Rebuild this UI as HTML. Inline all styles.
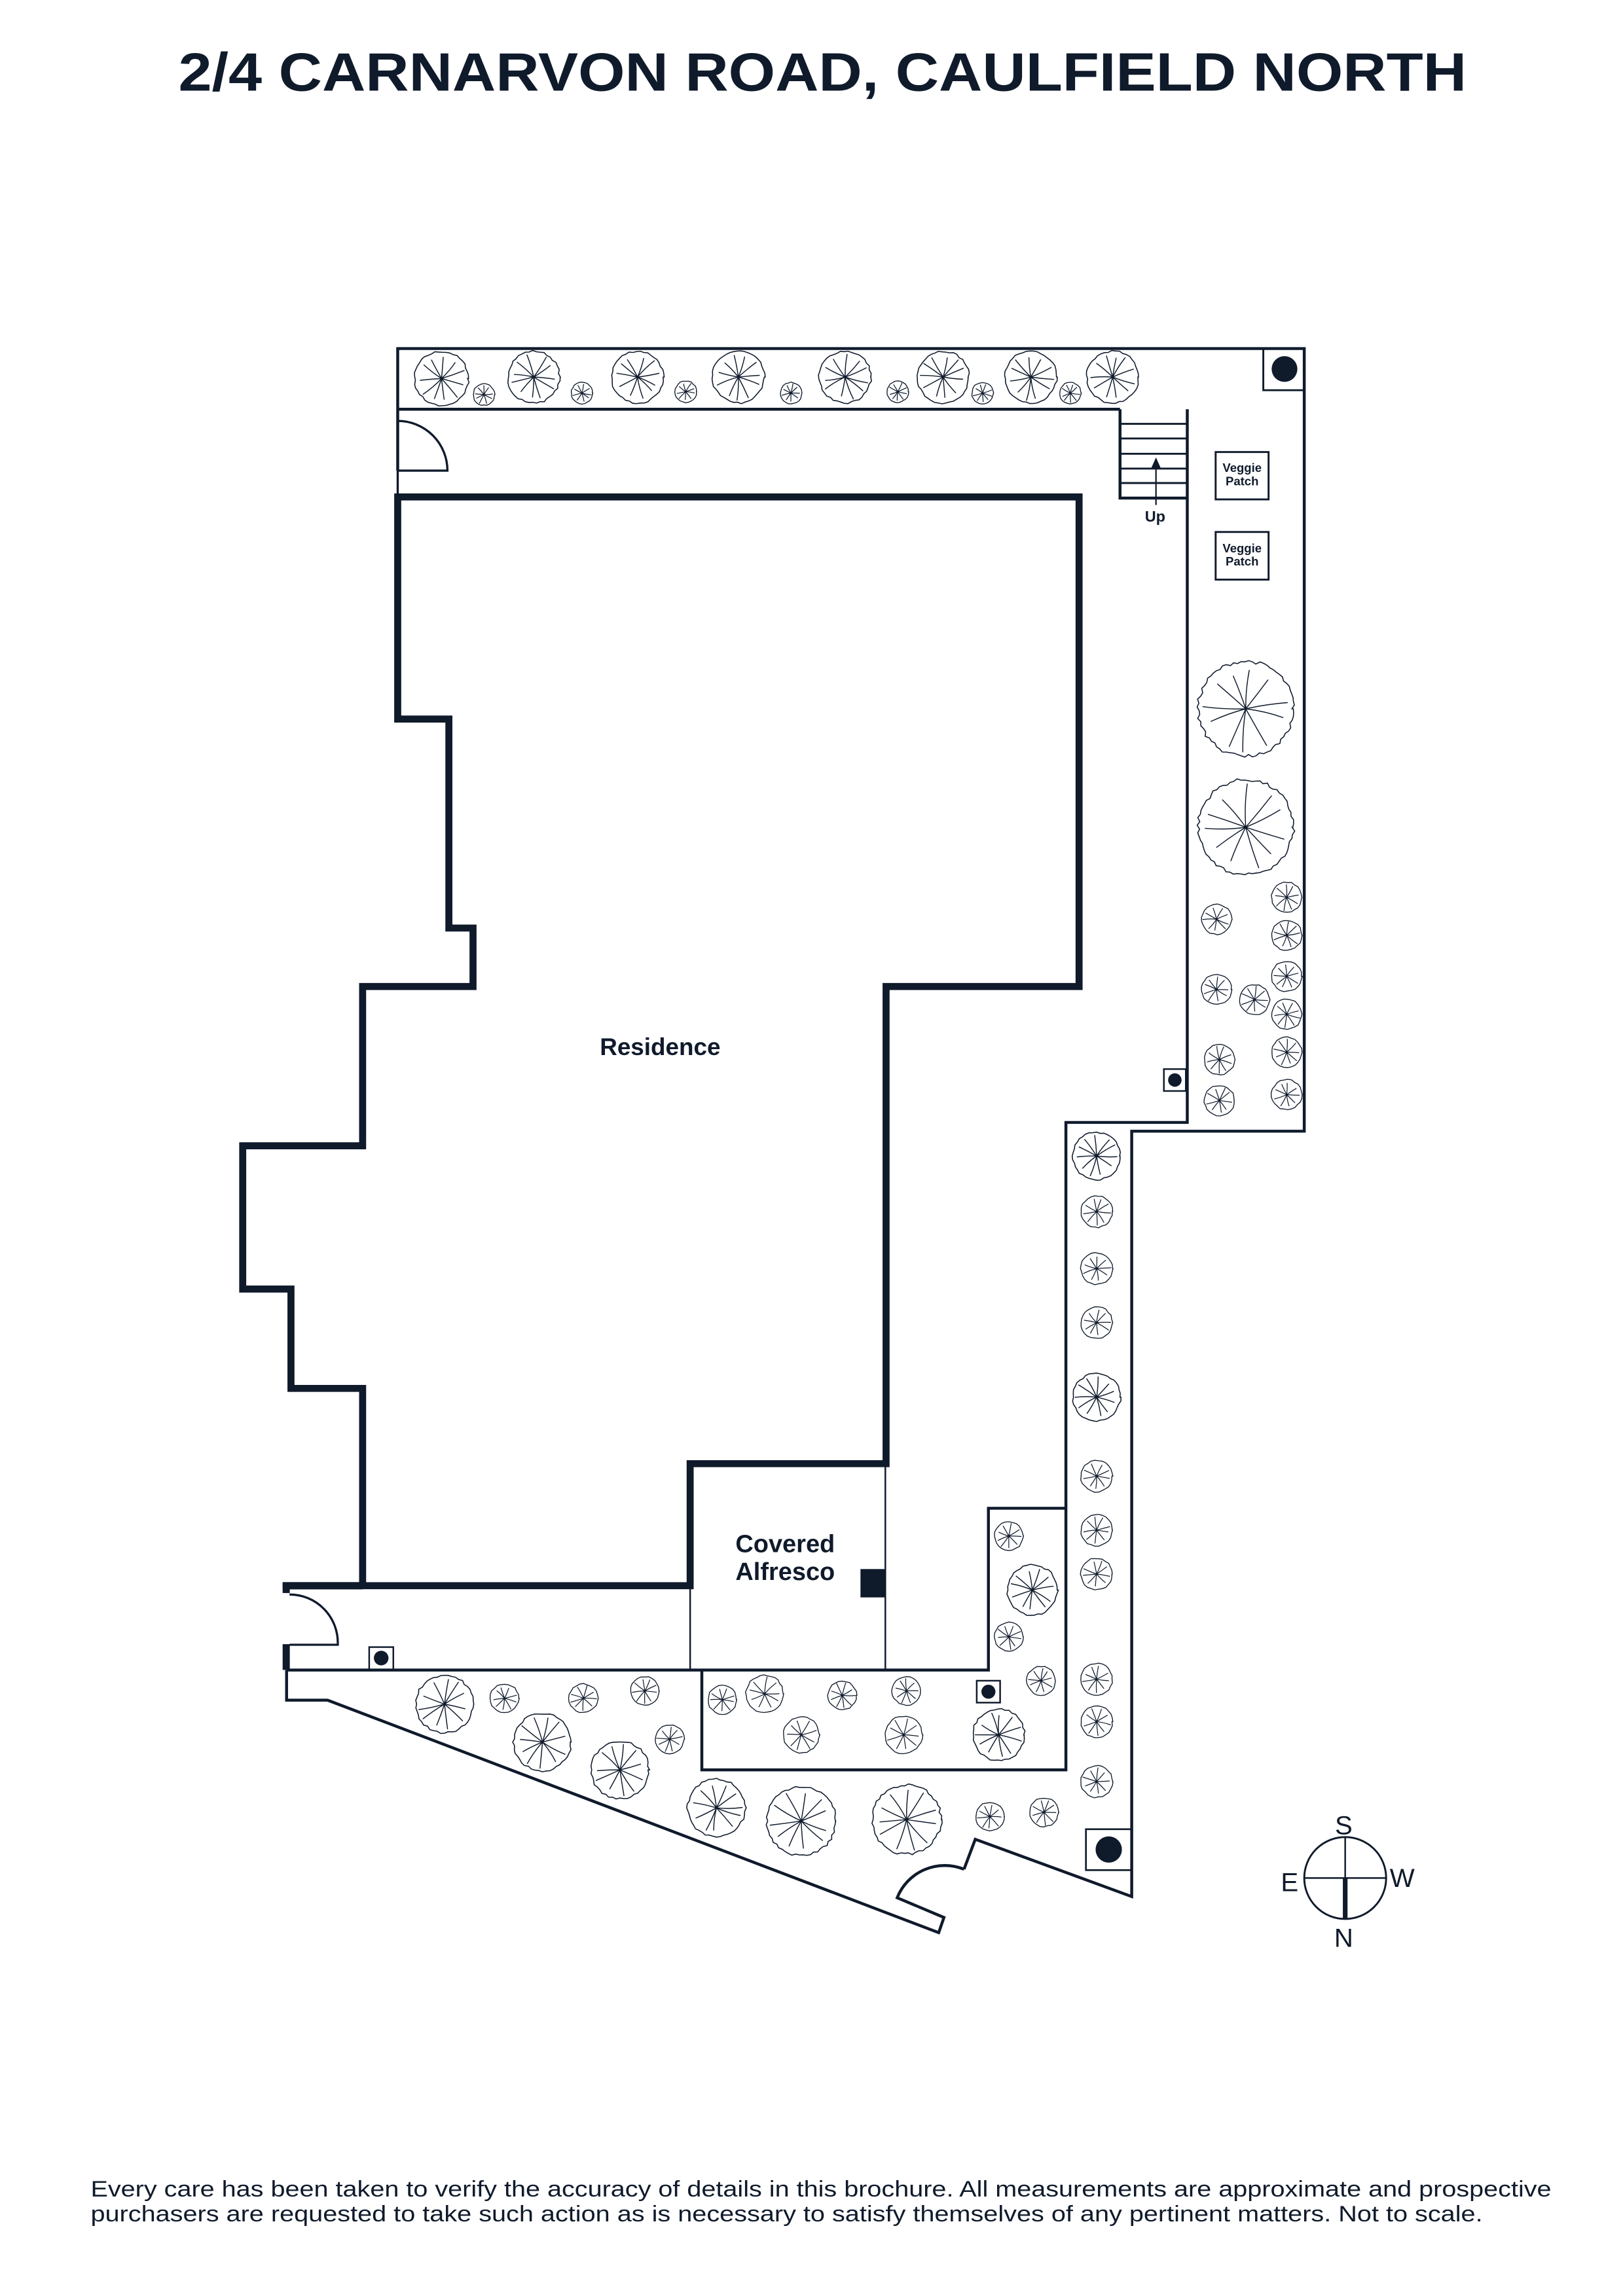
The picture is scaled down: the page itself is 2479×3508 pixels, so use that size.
<!DOCTYPE html>
<html><head><meta charset="utf-8">
<style>
html,body{margin:0;padding:0;background:#fff;}
svg{display:block;}
text{font-family:"Liberation Sans",sans-serif;fill:#0f1a2b;}
</style></head>
<body>
<svg id="s" width="2479" height="3508" viewBox="0 0 1110 1571" preserveAspectRatio="none" xmlns="http://www.w3.org/2000/svg">
<rect width="1110" height="1571" fill="#fff"/>
<text x="122" y="62" font-size="37" font-weight="bold" textLength="881" lengthAdjust="spacingAndGlyphs">2/4 CARNARVON ROAD, CAULFIELD NORTH</text>

<g fill="none" stroke="#0f1a2b" stroke-width="2" stroke-linejoin="miter">
<!-- top strip -->
<path d="M272,322 L272,238.5 L892,238.5 L892,774 L774,774 L774,1297.7 L667,1258.5 L659.3,1279"/>
<path d="M272,280 L766,280"/>
<!-- top left door -->
<path d="M272,288 A34,34 0 0 1 306,322 L272,322 L272,340" stroke-width="1.5"/>
<!-- stairs -->
<path d="M766,280 L766,340.8 L812,340.8"/>
<path d="M812,280 L812,768 L729,768 L729,1211 L480,1211 L480,1143"/>
<g stroke-width="1.3">
<line x1="766" y1="290" x2="812" y2="290"/><line x1="766" y1="300" x2="812" y2="300"/>
<line x1="766" y1="310.5" x2="812" y2="310.5"/><line x1="766" y1="320.6" x2="812" y2="320.6"/>
<line x1="766" y1="330.5" x2="812" y2="330.5"/>
<line x1="790.6" y1="345.5" x2="790.6" y2="318" stroke-width="1"/>
</g>
<path d="M787.5,320 L790.6,313 L793.7,320 Z" fill="#0f1a2b" stroke="none"/>
<!-- top right box -->
<path d="M892,267 L864,267 L864,238.5" stroke-width="1.3"/>
<!-- veggie boxes -->
<rect x="831.4" y="309.3" width="36.2" height="32.4" stroke-width="1.3"/>
<rect x="831.4" y="364" width="36.2" height="32.6" stroke-width="1.3"/>
<!-- bottom corridor -->
<path d="M196,1142.7 L676,1142.7 L676,1032 L729,1032"/>
<path d="M196,1142.7 L196,1163.3 L224,1163.3 L642,1322.4 L645.6,1312 L613.6,1298.5 A35,35 0 0 1 659.3,1279"/>
<path d="M198,1125.4 L231,1125.4 A33,33 0 0 0 198,1091" stroke-width="1.5"/>
<!-- alfresco -->
<line x1="472" y1="1085" x2="472" y2="1142.7" stroke-width="1.1"/>
<line x1="605.5" y1="1001" x2="605.5" y2="1142.7" stroke-width="1.1"/>
<!-- residence -->
<path d="M272,340 L738,340 L738,675 L606,675 L606,1001.5 L472,1001.5 L472,1085 L248,1085 L248,950 L199,950 L199,882 L166,882 L166,784 L248,784 L248,675 L323.5,675 L323.5,635 L307,635 L307,492 L272,492 Z" stroke-width="4.8"/>
<path d="M193.3,1085 L248,1085" stroke-width="5"/>
<rect x="193.3" y="1083" width="4.9" height="7" fill="#0f1a2b" stroke="none"/>
<rect x="193.3" y="1125" width="4.9" height="17.6" fill="#0f1a2b" stroke="none"/>
<!-- small markers -->
<rect x="252.5" y="1127" width="16.5" height="15.5" stroke-width="1.1"/>
<rect x="668" y="1150" width="16" height="15" stroke-width="1.1"/>
<rect x="796" y="731.5" width="15" height="15" stroke-width="1.1"/>
<rect x="742.7" y="1251.6" width="31" height="28" stroke-width="1.2"/>
<!-- compass -->
<circle cx="920" cy="1285" r="28" stroke-width="1.3"/>
<line x1="920" y1="1257" x2="920" y2="1285" stroke-width="1.1"/>
<line x1="892" y1="1285" x2="948" y2="1285" stroke-width="1.1"/>
<line x1="920" y1="1285" x2="920" y2="1313" stroke-width="3.2"/>
</g>
<g fill="#0f1a2b">
<circle cx="878.5" cy="252.5" r="8.8"/>
<circle cx="260.7" cy="1134.5" r="5"/>
<circle cx="676" cy="1157.5" r="4.8"/>
<circle cx="803.5" cy="739" r="4.6"/>
<circle cx="758.3" cy="1265.5" r="9"/>
<rect x="588.5" y="1073.6" width="17.5" height="19.4"/>
</g>
<g id="trees" fill="none" stroke="#0f1a2b" stroke-linecap="round"></g>

<text x="451.5" y="722" font-size="16.5" font-weight="bold" text-anchor="middle">Residence</text>
<text x="537" y="1062" font-size="17" font-weight="bold" text-anchor="middle">Covered</text>
<text x="537" y="1081" font-size="17" font-weight="bold" text-anchor="middle">Alfresco</text>
<text x="790" y="357" font-size="10.5" font-weight="bold" text-anchor="middle">Up</text>
<g font-size="8.3" font-weight="bold" text-anchor="middle">
<text x="849.5" y="323">Veggie</text><text x="849.5" y="332">Patch</text>
<text x="849.5" y="378">Veggie</text><text x="849.5" y="387">Patch</text>
</g>
<g font-size="18" text-anchor="middle">
<text x="919" y="1255">S</text>
<text x="882" y="1294">E</text>
<text x="959" y="1291">W</text>
<text x="919" y="1332">N</text>
</g>
<text x="62" y="1503" font-size="15.5" textLength="999" lengthAdjust="spacingAndGlyphs">Every care has been taken to verify the accuracy of details in this brochure. All measurements are approximate and prospective</text>
<text x="62" y="1520" font-size="15.5" textLength="952" lengthAdjust="spacingAndGlyphs">purchasers are requested to take such action as is necessary to satisfy themselves of any pertinent matters. Not to scale.</text>
</svg>
<script>
(function(){
var T=[
[302,259,18.7],[365,258,18],[436,258,18],[505,258,18],[578,258,18],[645,258,18],[705,258,18],[761,258,18],
[331,270,7.5],[398,269,7.5],[469,268,7.5],[541,269,7.5],[614,268,7.5],[672,269,7.5],[732,269,7.5],
[852,485,33],[852,566,33],
[880,614,10.5],[832,629,10.5],[880,640,10.5],[880,668,10.5],[832,677,10.5],[858,684,10.5],[880,694,10.5],[880,720,10.5],[834,725,10.5],[880,749,10.5],[834,753,10.5],
[750,791,16.5],[750,829,11],[750,868,11],[750,905,11],[750,956,16.5],[750,1010,11],[750,1047,11],[750,1077,11],[750,1149,11],[750,1178,11],[750,1219,11],
[690,1051,10],[706,1088,17.5],[690,1120,10],[712,1150,10],
[494,1163,10],[523,1159,13],[548,1187,12.5],[576,1160,10],[620,1157,10],[618,1187,13],[683,1187,18],
[304,1166,20],[345,1162,10],[399,1162,10],[441,1157,10],[371,1192,20],[458,1190,10],[424,1211,20],
[490,1237,20],[548,1246,24],[620,1245,24],[677,1243,10],[714,1240,10]
];
var seed=7;function rnd(){seed=(seed*16807)%2147483647;return seed/2147483647;}
var g=document.getElementById('trees');var h='';
T.forEach(function(t){
 var cx=t[0],cy=t[1],r=t[2];var n=Math.max(24,Math.round(r*2.4));var d='';
 for(var i=0;i<=n;i++){var a=i/n*Math.PI*2;var rr=r*(0.95+0.07*rnd());
  d+=(i?'L':'M')+(cx+rr*Math.cos(a)).toFixed(2)+','+(cy+rr*Math.sin(a)).toFixed(2);}
 h+='<path d="'+d+'Z" stroke-width="'+(r>15?0.7:0.6)+'"/>';
 var k=r>15?11:9;var off=rnd()*6;var l='';
 for(var j=0;j<k;j++){var a=off+j/k*Math.PI*2+ (rnd()-0.5)*0.3;var L=r*(0.72+0.18*rnd());
  var bend=(rnd()-0.5)*0.25;
  l+='M'+cx.toFixed(2)+','+cy.toFixed(2)+'Q'+(cx+L*0.5*Math.cos(a+bend)).toFixed(2)+','+(cy+L*0.5*Math.sin(a+bend)).toFixed(2)+' '+(cx+L*Math.cos(a)).toFixed(2)+','+(cy+L*Math.sin(a)).toFixed(2);}
 h+='<path d="'+l+'" stroke-width="'+(r>15?0.65:0.55)+'"/>';
});
g.innerHTML=h;
})();
</script>
</body></html>
